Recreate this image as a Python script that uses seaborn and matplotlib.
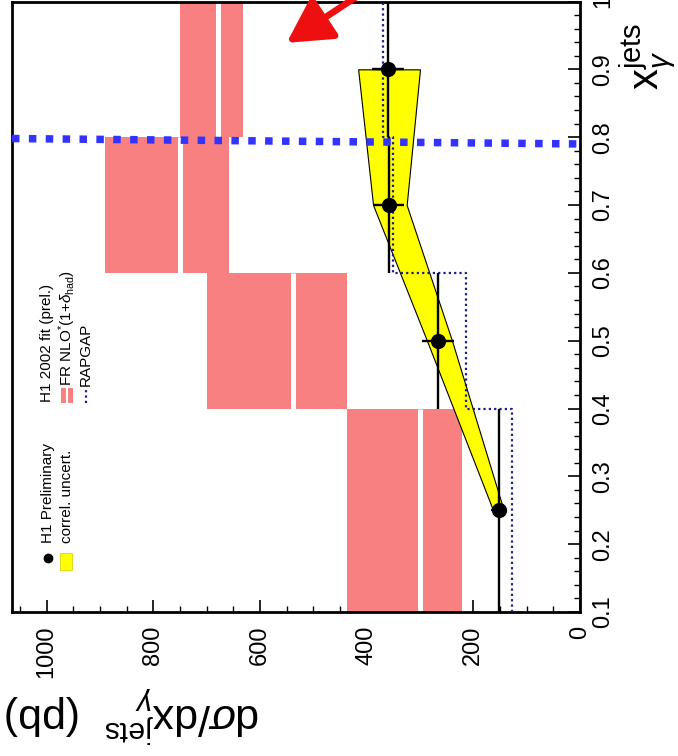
import numpy as np
import pandas as pd
import matplotlib
matplotlib.use("Agg")
import matplotlib.pyplot as plt
import seaborn as sns
from matplotlib.ticker import MultipleLocator, FuncFormatter
from matplotlib.patches import Rectangle
from matplotlib.lines import Line2D

# ---------------------------------------------------------------- data
# x_gamma^jets binning
bin_edges = [0.1, 0.4, 0.6, 0.8, 1.0]
bin_centres = [0.25, 0.5, 0.7, 0.9]

# H1 preliminary cross section dsigma/dx_gamma^jets (pb)
h1_xsec = [152, 266, 358, 360]
h1_err = [15, 30, 28, 30]

# correlated uncertainty band
band_lo = [143, 240, 325, 300]
band_hi = [163, 287, 388, 416]

# FR NLO*(1+delta_had) with H1 2002 fit (prel.)
nlo_lo = [221, 437, 658, 632]
nlo_mid = [300, 538, 750, 678]
nlo_hi = [437, 700, 891, 750]

# RAPGAP prediction
rapgap = [128, 214, 350, 370]

# x_gamma cut marker and pointer
cut_line_xg = [0.798, 0.790]
arrow_tail = (394, 1.02)
arrow_tip = (550, 0.939)

xsec_max = 1065

# ---------------------------------------------------------------- style
sns.set_theme(style="ticks")
plt.rcParams["font.family"] = ["Liberation Sans", "DejaVu Sans"]
plt.rcParams["mathtext.fontset"] = "custom"
plt.rcParams["mathtext.rm"] = "Liberation Sans"
plt.rcParams["mathtext.it"] = "Liberation Sans:italic"
plt.rcParams["mathtext.bf"] = "Liberation Sans:bold"

W, H = 678, 756
fig = plt.figure(figsize=(W / 100, H / 100), dpi=100)
fig.patch.set_facecolor("white")


def fx(px):
    return px / W


def fy(py):
    return 1 - py / H


ax = fig.add_axes([fx(12), fy(612), fx(580) - fx(12), fy(1.5) - fy(612)])
ax.set_facecolor("white")

edges = np.array(bin_edges)
lo_edge, hi_edge = edges[:-1], edges[1:]
centres = np.array(bin_centres)

pink = "#f98080"
# NLO bands, split by a white line at the central value
ax.barh(lo_edge, np.array(nlo_hi) - np.array(nlo_lo), height=hi_edge - lo_edge,
        left=nlo_lo, align="edge", color=pink, lw=0, zorder=1)
ax.vlines(nlo_mid, lo_edge, hi_edge, color="white", lw=3.6, zorder=1.5)

# correlated uncertainty band
ax.fill_betweenx(centres, band_lo, band_hi, facecolor="#ffff00",
                 edgecolor="black", lw=0.8, zorder=2)

# RAPGAP step histogram
step_y = np.repeat(edges, 2)[1:-1]
step_x = np.repeat(np.array(rapgap), 2)
rap_df = pd.DataFrame({"xsec": step_x, "xg": step_y})
sns.lineplot(data=rap_df, x="xsec", y="xg", sort=False, estimator=None,
             color="#1c1c8c", lw=1.6, linestyle=(0, (1, 1.4)), ax=ax, zorder=3)

# H1 data points
ax.errorbar(h1_xsec, centres, xerr=h1_err,
            yerr=[centres - lo_edge, hi_edge - centres],
            fmt="none", ecolor="black", elinewidth=1.7, capsize=0, zorder=4)
pts = pd.DataFrame({"xsec": h1_xsec, "xg": bin_centres})
sns.scatterplot(data=pts, x="xsec", y="xg", color="black", s=120,
                edgecolor="black", linewidth=0, ax=ax, zorder=5)

# x_gamma = 0.8 cut
ax.plot([xsec_max, 0], cut_line_xg, color="#3333ff", lw=5.4,
        linestyle=(0, (1, 1.25)), dash_capstyle="butt", zorder=6,
        clip_on=False)

# pointer
ax.annotate("", xy=arrow_tip, xytext=arrow_tail,
            arrowprops=dict(arrowstyle="-|>,head_length=1.0,head_width=0.55",
                            color="#ee1010", lw=4.8, mutation_scale=27,
                            shrinkA=0, shrinkB=0),
            annotation_clip=False, zorder=7)

# ---------------------------------------------------------------- axes
ax.set_xlim(xsec_max, 0)
ax.set_ylim(0.1, 1.0)
ax.set_xlabel("")
ax.set_ylabel("")
for sp in ax.spines.values():
    sp.set_visible(True)
    sp.set_linewidth(2.0)
    sp.set_color("black")

ax.xaxis.set_major_locator(MultipleLocator(200))
ax.xaxis.set_minor_locator(MultipleLocator(50))
ax.xaxis.set_major_formatter(FuncFormatter(lambda v, p: f"{v:.0f}"))
ax.yaxis.set_major_locator(MultipleLocator(0.1))
ax.yaxis.set_minor_locator(MultipleLocator(0.02))
ax.yaxis.set_major_formatter(FuncFormatter(lambda v, p: f"{v:g}"))
ax.yaxis.tick_right()

ax.tick_params(axis="x", which="both", direction="in", bottom=True, top=False,
               labelbottom=True, labelrotation=90, labelsize=17, pad=10,
               color="black", labelcolor="black")
ax.tick_params(axis="y", which="both", direction="in", left=False, right=True,
               labelleft=False, labelright=True, labelrotation=90,
               labelsize=17, pad=9, color="black", labelcolor="black")
ax.tick_params(which="major", length=8.5, width=1.2)
ax.tick_params(which="minor", length=4.5, width=1.0)
for t in ax.yaxis.get_majorticklabels():
    t.set_verticalalignment("center")

# axis titles
fig.text(fx(648), fy(90), r"x$_{\gamma}^{\mathrm{jets}}$", rotation=90,
         ha="center", va="bottom", fontsize=30, color="black")
fig.text(fx(5), fy(714), r"d$\sigma$/dx$_{\gamma}^{\mathrm{jets}}$  (pb)",
         rotation=180, ha="left", va="center", fontsize=31, color="black")

# ---------------------------------------------------------------- legend
leg_fs = 11
fig.text(fx(48), fy(543), "H1 Preliminary", rotation=90, ha="center",
         va="bottom", fontsize=leg_fs, color="black")
fig.text(fx(67), fy(543), "correl. uncert.", rotation=90, ha="center",
         va="bottom", fontsize=leg_fs, color="black")
fig.add_artist(Line2D([fx(48)], [fy(558)], marker="o", markersize=6,
                      color="black", transform=fig.transFigure))
fig.add_artist(Rectangle((fx(60), fy(570)), fx(12), fy(553) - fy(570),
                         facecolor="#ffff00", edgecolor="#cccc00", lw=0.5,
                         transform=fig.transFigure))

fig.text(fx(47), fy(402), "H1 2002 fit (prel.)", rotation=90, ha="center",
         va="bottom", fontsize=leg_fs, color="black")
fig.text(fx(67), fy(386), r"FR NLO$^{*}$(1+$\delta_{\mathrm{had}}$)",
         rotation=90, ha="center", va="bottom", fontsize=leg_fs,
         color="black")
fig.text(fx(86), fy(386), "RAPGAP", rotation=90, ha="center", va="bottom",
         fontsize=leg_fs, color="black")
fig.add_artist(Rectangle((fx(61), fy(403)), fx(12), fy(388) - fy(403),
                         facecolor=pink, lw=0, transform=fig.transFigure))
fig.add_artist(Line2D([fx(67), fx(67)], [fy(403), fy(388)], color="white",
                      lw=1.5, transform=fig.transFigure))
fig.add_artist(Line2D([fx(86), fx(86)], [fy(403), fy(388)], color="#1c1c8c",
                      lw=1.6, linestyle=(0, (1, 1.4)),
                      transform=fig.transFigure))

fig.savefig("out.png", dpi=100, facecolor="white")
